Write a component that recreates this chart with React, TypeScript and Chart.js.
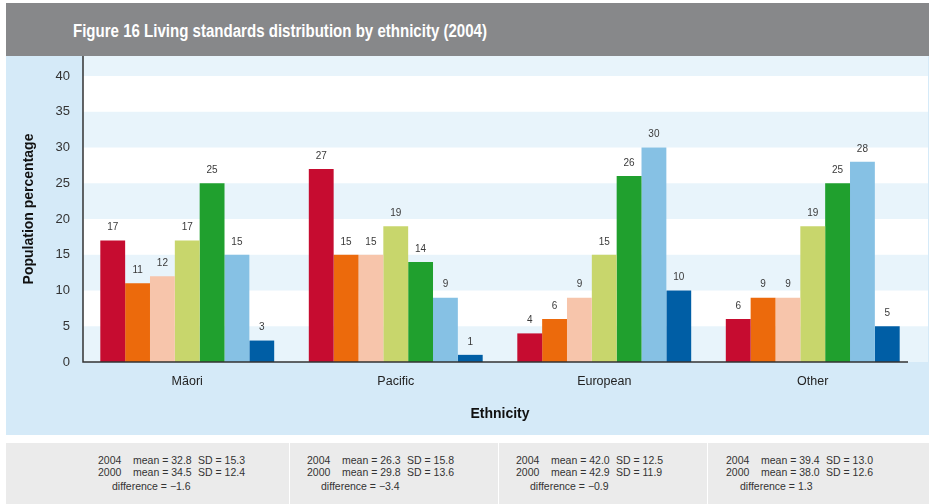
import { useEffect, useRef } from "react";
import { Chart, registerables } from "chart.js";

Chart.register(...registerables);

// Ethnic groups along the x axis
const ethnicities = ["Māori", "Pacific", "European", "Other"];

// Living standards levels (one bar series each), lowest to highest
const levelNames = [
  "Severe hardship",
  "Significant hardship",
  "Some hardship",
  "Fairly comfortable",
  "Comfortable",
  "Good",
  "Very good",
];
const levelColors = ["#c60c30", "#ec6a0c", "#f7c5ab", "#c8d66c", "#20a02e", "#86c1e4", "#005ea5"];

// Population percentage per ethnicity, one array per level
const severeHardship = [17, 27, 4, 6];
const significantHardship = [11, 15, 6, 9];
const someHardship = [12, 15, 9, 9];
const fairlyComfortable = [17, 19, 15, 19];
const comfortable = [25, 14, 26, 25];
const good = [15, 9, 30, 28];
const veryGood = [3, 1, 10, 5];
const levelValues = [severeHardship, significantHardship, someHardship, fairlyComfortable, comfortable, good, veryGood];

// Y axis ticks and the white bands between them
const yTicks = [0, 5, 10, 15, 20, 25, 30, 35, 40];
const whiteBands: [number, number][] = [[5, 10], [15, 20], [25, 30], [35, 40]];

// Summary statistics shown under each group
const mean2004 = [32.8, 26.3, 42.0, 39.4];
const sd2004 = [15.3, 15.8, 12.5, 13.0];
const mean2000 = [34.5, 29.8, 42.9, 38.0];
const sd2000 = [12.4, 13.6, 11.9, 12.6];
const difference = [-1.6, -3.4, -0.9, 1.3];

const FONT = "'Liberation Sans', Arial, sans-serif";
const CANVAS_W = 923;
const CANVAS_H = 379;

// Layout of the statistics boxes (page coordinates)
const statBoxes = [
  { left: 6, width: 283, text: 98 },
  { left: 290, width: 208, text: 307 },
  { left: 499, width: 208, text: 516 },
  { left: 708, width: 221, text: 726 },
];

const fmt = (v: number) => (v < 0 ? "\u2212" + Math.abs(v).toFixed(1) : v.toFixed(1));

const backdropPlugin = {
  id: "backdrop",
  beforeDraw(chart: any) {
    const { ctx, chartArea } = chart;
    const y = chart.scales.y;
    const right = chart.width - 1;
    ctx.save();
    ctx.fillStyle = "#e8f4fb";
    ctx.fillRect(chartArea.left, chartArea.top, right - chartArea.left, chartArea.bottom - chartArea.top);
    ctx.fillStyle = "#ffffff";
    for (const [a, b] of whiteBands) {
      const top = y.getPixelForValue(b);
      const bottom = y.getPixelForValue(a);
      ctx.fillRect(chartArea.left, top, right - chartArea.left, bottom - top);
    }
    ctx.restore();
  },
  afterDatasetsDraw(chart: any) {
    const { ctx, chartArea } = chart;
    ctx.save();
    // axis lines
    ctx.strokeStyle = "#333333";
    ctx.lineWidth = 1.5;
    ctx.beginPath();
    ctx.moveTo(chartArea.left, chartArea.top);
    ctx.lineTo(chartArea.left, chartArea.bottom);
    ctx.lineTo(chartArea.right - 9, chartArea.bottom);
    ctx.stroke();
    // value labels above bars
    ctx.fillStyle = "#3a3a3a";
    ctx.font = `10px ${FONT}`;
    ctx.textAlign = "center";
    ctx.textBaseline = "middle";
    chart.data.datasets.forEach((ds: any, i: number) => {
      const meta = chart.getDatasetMeta(i);
      meta.data.forEach((bar: any, j: number) => {
        ctx.fillText(String(ds.data[j]), bar.x, bar.y - 13);
      });
    });
    ctx.restore();
  },
};

function LivingStandardsChart() {
  const ref = useRef<HTMLCanvasElement | null>(null);

  useEffect(() => {
    if (!ref.current) return;
    const chart = new Chart(ref.current, {
      type: "bar",
      data: {
        labels: ethnicities,
        datasets: levelNames.map((name, i) => ({
          label: name,
          data: levelValues[i],
          backgroundColor: levelColors[i],
          borderWidth: 0,
          categoryPercentage: 0.834,
          barPercentage: 1,
        })),
      },
      options: {
        animation: false,
        responsive: false,
        layout: { padding: { left: 0, right: 12, top: 0, bottom: 0 } },
        plugins: { legend: { display: false }, tooltip: { enabled: false } },
        scales: {
          x: {
            afterFit: (s: any) => {
              s.height = 73;
              s.paddingLeft = 0;
              s.paddingRight = 0;
            },
            grid: { display: false, drawTicks: false },
            border: { display: false },
            ticks: { padding: 12, color: "#222222", font: { family: FONT, size: 12.5 } },
            title: {
              display: true,
              text: "Ethnicity",
              color: "#111111",
              font: { family: FONT, size: 14, weight: "bold" },
              padding: { top: 0, bottom: 12 },
            },
          },
          y: {
            min: 0,
            max: 42.8,
            afterBuildTicks: (s: any) => {
              s.ticks = yTicks.map((v) => ({ value: v }));
            },
            afterFit: (s: any) => {
              s.width = 77;
              s.paddingTop = 0;
              s.paddingBottom = 0;
            },
            grid: { display: false, drawTicks: false },
            border: { display: false },
            ticks: { padding: 13, color: "#333333", font: { family: FONT, size: 13 } },
            title: {
              display: true,
              text: "Population percentage",
              color: "#111111",
              font: { family: FONT, size: 14, weight: "bold" },
              padding: { top: 15, bottom: 0 },
            },
          },
        },
      },
      plugins: [backdropPlugin],
    });
    return () => chart.destroy();
  }, []);

  return <canvas ref={ref} width={CANVAS_W} height={CANVAS_H} style={{ display: "block", width: CANVAS_W, height: CANVAS_H }} />;
}

export default function App() {
  return (
    <div
      style={{
        position: "absolute",
        left: 0,
        top: 0,
        width: 931,
        height: 504,
        background: "#ffffff",
        fontFamily: FONT,
        overflow: "hidden",
      }}
    >
      <div style={{ position: "absolute", left: 6, top: 3, width: 923, height: 53, background: "#87888a" }}>
        <div
          style={{
            position: "absolute",
            left: 67,
            top: 2,
            height: 53,
            lineHeight: "53px",
            color: "#ffffff",
            fontWeight: "bold",
            fontSize: 17.5,
            whiteSpace: "nowrap",
            transform: "scaleX(0.86)",
            transformOrigin: "left center",
          }}
        >
          Figure 16 Living standards distribution by ethnicity (2004)
        </div>
      </div>
      <div style={{ position: "absolute", left: 6, top: 56, width: CANVAS_W, height: CANVAS_H, background: "#d5eaf8" }}>
        <LivingStandardsChart />
      </div>
      {statBoxes.map((box, i) => {
        const x = box.text - box.left;
        const line = (top: number, parts: [number, string][]) =>
          parts.map(([dx, t], k) => (
            <span key={k} style={{ position: "absolute", left: x + dx, top, whiteSpace: "nowrap" }}>
              {t}
            </span>
          ));
        return (
          <div
            key={i}
            style={{
              position: "absolute",
              left: box.left,
              top: 443,
              width: box.width,
              height: 61,
              background: "#ebebeb",
              color: "#333333",
              fontSize: 10.5,
              lineHeight: "13px",
            }}
          >
            {line(10.5, [
              [0, "2004"],
              [35, `mean = ${mean2004[i].toFixed(1)}`],
              [100, `SD = ${sd2004[i].toFixed(1)}`],
            ])}
            {line(23.2, [
              [0, "2000"],
              [35, `mean = ${mean2000[i].toFixed(1)}`],
              [100, `SD = ${sd2000[i].toFixed(1)}`],
            ])}
            {line(36.5, [[14, `difference = ${fmt(difference[i])}`]])}
          </div>
        );
      })}
    </div>
  );
}
